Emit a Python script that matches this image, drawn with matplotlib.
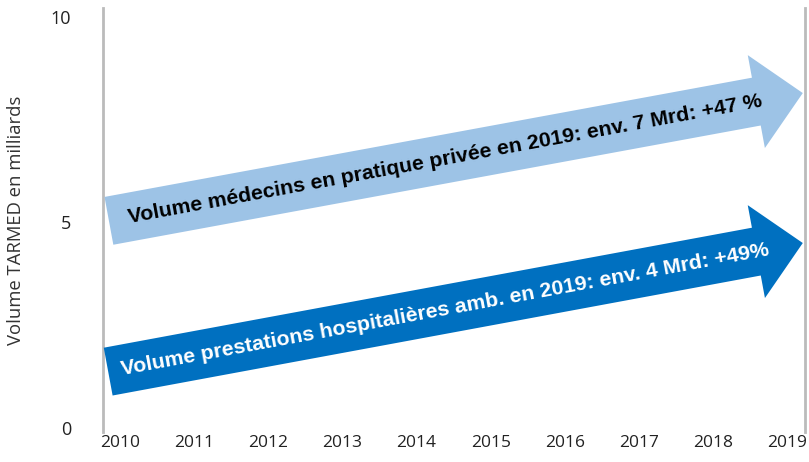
import numpy as np
import matplotlib.pyplot as plt

# Données
years = [2010, 2011, 2012, 2013, 2014, 2015, 2016, 2017, 2018, 2019]
y_ticks = [0, 5, 10]
arrow_labels = ["Volume médecins en pratique privée en 2019: env. 7 Mrd: +47 %",
                "Volume prestations hospitalières amb. en 2019: env. 4 Mrd: +49%"]
arrow_x_start = [2009.85, 2009.84]
arrow_x_end = [2019.21, 2019.21]
arrow_y_start = [5.04, 1.37]
arrow_y_end = [8.15, 4.50]
arrow_colors = ["#9DC3E6", "#0070C0"]
text_colors = ["black", "white"]

fig = plt.figure(figsize=(8.09, 4.62), dpi=100)
ax = fig.add_axes([103/809, 1-432/462, (805-103)/809, (432-8)/462])
ax.set_xlim(2009.77, 2019.24)
ax.set_ylim(-0.1, 10.22)

for s in ['top', 'bottom']:
    ax.spines[s].set_visible(False)
for s in ['left', 'right']:
    ax.spines[s].set_color('#BBBBBB')
    ax.spines[s].set_linewidth(2)

ax.set_xticks(years)
ax.set_xticklabels([str(y) for y in years], fontsize=12.5, color='#222222', family='Open Sans')
ax.set_yticks(y_ticks)
ax.set_yticklabels([str(v) for v in y_ticks], fontsize=13, color='#222222', family='Open Sans')
ax.tick_params(axis='x', length=0, pad=2)
ax.tick_params(axis='y', length=0, pad=23)
ax.set_ylabel("Volume TARMED en milliards", fontsize=13.3, color='#333333', family='Open Sans')
ax.yaxis.set_label_coords(-0.111, 0.5)

for i in range(len(arrow_labels)):
    x0, x1 = arrow_x_start[i], arrow_x_end[i]
    y0, y1 = arrow_y_start[i], arrow_y_end[i]
    ax.annotate("", xy=(x1, y1), xytext=(x0, y0),
                arrowprops=dict(arrowstyle="simple,head_length=34,head_width=68,tail_width=35",
                                mutation_scale=1, fc=arrow_colors[i], ec='none',
                                shrinkA=0, shrinkB=0), annotation_clip=False)
    p0 = ax.transData.transform((x0, y0))
    p1 = ax.transData.transform((x1, y1))
    ang = np.degrees(np.arctan2(p1[1]-p0[1], p1[0]-p0[0]))
    xm = x0 + (x1 - x0) * 0.485
    ym = y0 + (y1 - y0) * 0.485
    ax.text(xm, ym, arrow_labels[i], rotation=ang, rotation_mode='anchor',
            ha='center', va='center', fontsize=15.3, fontweight='bold',
            color=text_colors[i], family='Liberation Sans')

fig.savefig("out.png", dpi=100)
